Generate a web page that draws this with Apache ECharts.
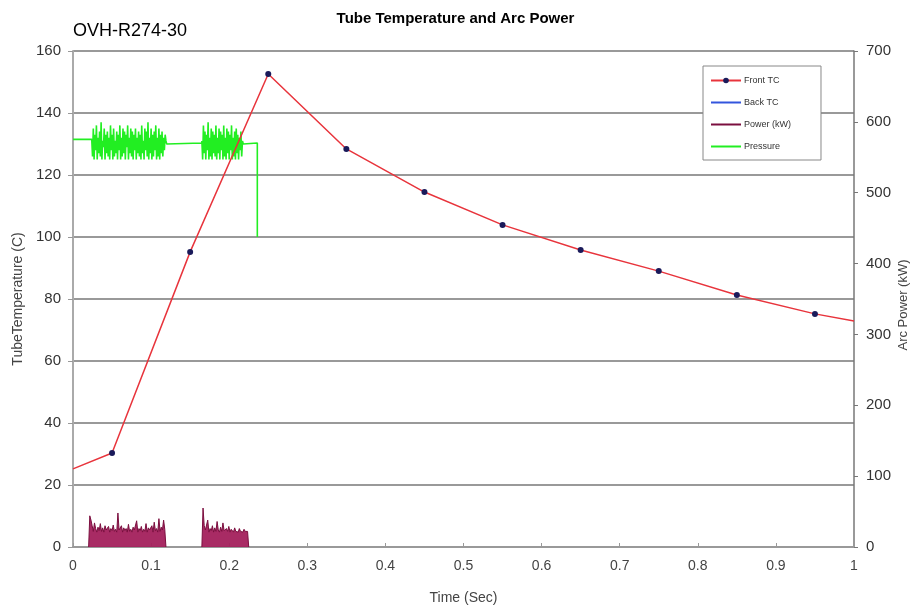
<!DOCTYPE html>
<html>
<head>
<meta charset="utf-8">
<title>Tube Temperature and Arc Power</title>
<script src="https://cdn.jsdelivr.net/npm/echarts@6/dist/echarts.min.js"></script>
<style>
  html, body { margin: 0; padding: 0; background: #fff; }
  #chart { width: 911px; height: 610px; }
</style>
</head>
<body>
<div id="chart"></div>
<script>
// Front TC thermocouple (C, left axis)
var frontT = [0, 0.05, 0.15, 0.25, 0.35, 0.45, 0.55, 0.65, 0.75, 0.85, 0.95, 1];
var frontV = [25.2, 30.3, 95.2, 152.6, 128.4, 114.5, 103.9, 95.8, 89, 81.3, 75.2, 72.9];

// Pressure (left axis) - flat parts and two noisy bursts, sampled every 1 ms
var pressStep = 0.001;
var pressBurst1Start = 0.024;
var pressBurst1 = [131, 126, 135, 125, 133, 128, 136, 125, 132, 127, 134, 126, 137, 125, 131, 129, 135, 125, 133, 127,
  134, 126, 132, 125, 136, 128, 133, 125, 135, 126, 131, 127, 134, 125, 133, 128, 136, 125, 132, 126,
  135, 127, 134, 125, 133, 129, 136, 125, 132, 127, 135, 126, 134, 125, 133, 128, 135, 125, 132, 127,
  134, 126, 133, 125, 136, 127, 131, 125, 135, 128, 134, 126, 137, 125, 132, 127, 135, 125, 133, 126,
  134, 128, 136, 125, 132, 126, 135, 125, 133, 127, 134, 126, 132, 128, 133, 131, 130];
var pressBurst2Start = 0.165;
var pressBurst2 = [131, 125, 136, 127, 134, 125, 133, 128, 137, 125, 132, 126, 135, 125, 134, 127, 133, 126, 136, 125,
  132, 127, 135, 125, 134, 128, 133, 125, 136, 126, 132, 125, 135, 127, 134, 125, 133, 128, 136, 125,
  132, 126, 134, 125, 135, 127, 133, 125, 132, 128, 134, 126, 131, 130];
var pressFlatT = [0, 0.024, 0.12, 0.165, 0.218, 0.236];
var pressFlatV = [131.5, 131.5, 130.3, 130.3, 130.3, 130.3];
var pressEnd = 100;

// Arc power (kW, right axis), sampled every 1.5 ms
var powStep = 0.0015;
var powBurst1Start = 0.02;
var powBurst1 = [0, 44, 38, 30, 22, 34, 26, 21, 28, 23, 33, 22, 27, 21, 30, 24, 22, 29, 21, 26,
  23, 31, 22, 25, 21, 48, 24, 22, 30, 21, 27, 23, 26, 21, 32, 22, 25, 21, 28, 24,
  22, 37, 21, 26, 23, 29, 21, 25, 22, 33, 21, 27, 24, 22, 30, 21, 35, 23, 26, 21,
  40, 22, 28, 24, 38, 25, 0];
var powBurst2Start = 0.165;
var powBurst2 = [0, 55, 30, 24, 22, 38, 21, 26, 23, 30, 21, 27, 22, 36, 24, 21, 28, 22, 34, 23,
  21, 26, 22, 29, 21, 25, 23, 21, 27, 22, 24, 21, 26, 22, 23, 21, 25, 22, 21, 22, 0];

function burst(start, step, vals) {
  return vals.map(function (v, i) { return [start + i * step, v]; });
}

var frontData = frontT.map(function (t, i) {
  var d = { value: [t, frontV[i]] };
  if (i === 0 || i === frontT.length - 1) d.symbol = 'none';
  return d;
});

var pressData = [[pressFlatT[0], pressFlatV[0]], [pressFlatT[1], pressFlatV[1]]]
  .concat(burst(pressBurst1Start, pressStep, pressBurst1))
  .concat([[pressFlatT[2], pressFlatV[2]], [pressFlatT[3], pressFlatV[3]]])
  .concat(burst(pressBurst2Start, pressStep, pressBurst2))
  .concat([[pressFlatT[4], pressFlatV[4]], [pressFlatT[5], pressFlatV[5]], [pressFlatT[5], pressEnd]]);

var powData = burst(powBurst1Start, powStep, powBurst1)
  .concat([[0.14, null]])
  .concat(burst(powBurst2Start, powStep, powBurst2));

var chart = echarts.init(document.getElementById('chart'));
var font = 'Arial, "Liberation Sans", sans-serif';

var option = {
  backgroundColor: '#fff',
  animation: false,
  textStyle: { fontFamily: font },
  title: [
    { text: 'Tube Temperature and Arc Power', left: 'center', top: 6,
      textStyle: { fontSize: 15, fontWeight: 'bold', color: '#000', fontFamily: font } },
    { text: 'OVH-R274-30', left: 68, top: 17,
      textStyle: { fontSize: 18, fontWeight: 'normal', color: '#000', fontFamily: font } }
  ],
  // right axis title placed by hand, the axis name kept getting pushed off the edge
  graphic: [{
    type: 'text', x: 903, y: 305, rotation: Math.PI / 2,
    style: { text: 'Arc Power (kW)', fill: '#444', font: '13px ' + font,
      align: 'center', verticalAlign: 'middle' }
  }],
  legend: {
    orient: 'vertical',
    left: 703, top: 66,
    width: 114,
    padding: [10, 30, 9, 7],
    itemGap: 13,
    itemWidth: 30,
    itemHeight: 7,
    backgroundColor: '#fff',
    borderColor: '#888',
    borderWidth: 1,
    textStyle: { fontSize: 9, color: '#333', padding: [0, 0, 0, -2] },
    data: [
      { name: 'Front TC' },
      { name: 'Back TC', itemStyle: { opacity: 0 } },
      { name: 'Power (kW)', itemStyle: { opacity: 0 } },
      { name: 'Pressure', itemStyle: { opacity: 0 } }
    ]
  },
  grid: { left: 73, right: 57, top: 51, bottom: 63, outerBoundsMode: 'none' },
  xAxis: {
    type: 'value', min: 0, max: 1, interval: 0.1,
    name: 'Time (Sec)', nameLocation: 'middle', nameGap: 44,
    nameTextStyle: { fontSize: 14, color: '#444' },
    axisLine: { lineStyle: { color: '#999', width: 2 } },
    axisTick: { inside: true, length: 4, lineStyle: { color: '#999' } },
    axisLabel: { fontSize: 14, color: '#444', margin: 12 },
    splitLine: { show: false }
  },
  yAxis: [
    {
      type: 'value', min: 0, max: 160, interval: 20,
      name: 'TubeTemperature (C)', nameLocation: 'middle', nameGap: 46, nameRotate: 90,
      nameTextStyle: { fontSize: 14, color: '#444' },
      axisLine: { show: true, lineStyle: { color: '#aaa', width: 2 } },
      axisTick: { show: true, length: 5, lineStyle: { color: '#999' } },
      axisLabel: { fontSize: 15, color: '#333', margin: 12 },
      splitLine: { show: true, lineStyle: { color: '#999', width: 2 } }
    },
    {
      type: 'value', min: 0, max: 700, interval: 100, position: 'right',
      axisLine: { show: true, lineStyle: { color: '#777', width: 1.5 } },
      axisTick: { show: true, length: 4, lineStyle: { color: '#777' } },
      axisLabel: { fontSize: 15, color: '#333', margin: 12 },
      splitLine: { show: false }
    }
  ],
  series: [
    {
      name: 'Power (kW)', type: 'line', yAxisIndex: 1,
      data: powData, symbol: 'none', connectNulls: false,
      lineStyle: { color: '#7b0f3f', width: 1 },
      itemStyle: { color: '#7b0f3f' },
      areaStyle: { color: '#a3205c', opacity: 0.95 },
      z: 2
    },
    {
      name: 'Pressure', type: 'line', yAxisIndex: 0,
      data: pressData, symbol: 'none',
      lineStyle: { color: '#22ee22', width: 1.6 },
      itemStyle: { color: '#22ee22' },
      z: 3
    },
    {
      name: 'Back TC', type: 'line', yAxisIndex: 0,
      data: [], symbol: 'none',
      lineStyle: { color: '#3355dd', width: 1.5 },
      itemStyle: { color: '#3355dd' }
    },
    {
      name: 'Front TC', type: 'line', yAxisIndex: 0,
      data: frontData,
      symbol: 'circle', symbolSize: 6,
      lineStyle: { color: '#e8343c', width: 1.5 },
      itemStyle: { color: '#1a1a5a' },
      z: 4
    }
  ]
};
chart.setOption(option);
</script>
</body>
</html>
